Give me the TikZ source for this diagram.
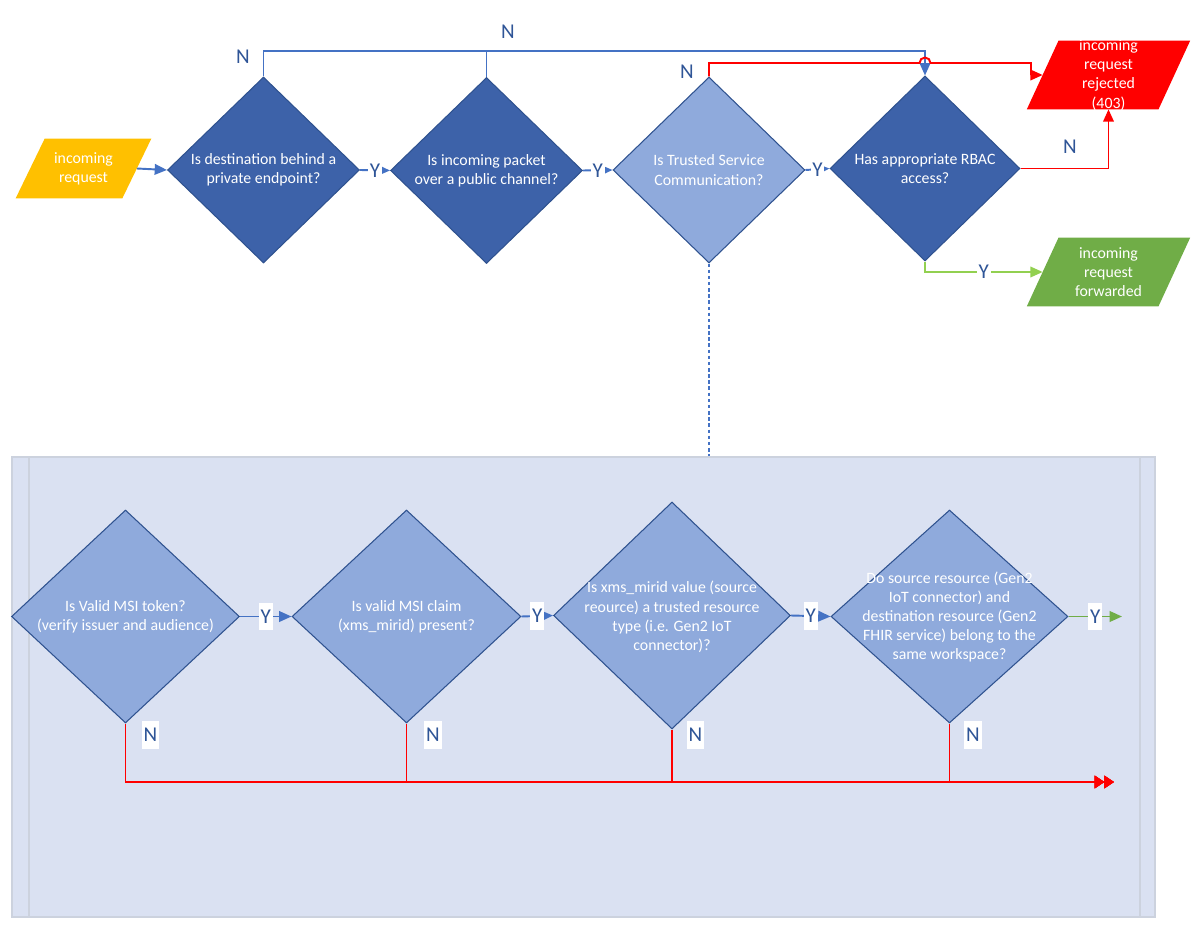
\documentclass[tikz,border=0pt]{standalone}
\usepackage{fontspec}
\setmainfont{Carlito}
\usetikzlibrary{shapes.geometric,arrows.meta}
\definecolor{dkblue}{RGB}{61,98,169}
\definecolor{ltblue}{RGB}{143,170,220}
\definecolor{edgeblue}{RGB}{47,82,143}
\definecolor{lineblue}{RGB}{68,114,196}
\definecolor{lblblue}{RGB}{47,85,151}
\definecolor{yel}{RGB}{255,192,0}
\definecolor{rred}{RGB}{255,0,0}
\definecolor{gfill}{RGB}{112,173,71}
\definecolor{lgreen}{RGB}{146,208,80}
\definecolor{contfill}{RGB}{218,225,242}
\definecolor{contedge}{RGB}{204,210,222}
\newcommand\pgramfill[3]{\fill[#1] ([xshift=-#3]#2.south west) -- ([xshift=-#3]#2.south east) -- ([xshift=#3]#2.north east) -- ([xshift=#3]#2.north west) -- cycle;}
\begin{document}
\begin{tikzpicture}[x=0.02cm,y=-0.02cm,
  dia/.style={diamond, draw=edgeblue, line width=0.6pt, inner sep=0pt, minimum width=3.84cm, minimum height=3.72cm},
  dkdia/.style={dia, fill=dkblue},
  ltdia/.style={dia, fill=ltblue},
  txt/.style={text=white, font=\fontsize{9}{10.9}\selectfont, align=center, inner sep=0pt},
  para/.style={rectangle, inner sep=0pt, minimum width=2.62cm, minimum height=1.36cm, draw=none},
  lbl/.style={text=lblblue, font=\fontsize{12}{14}\selectfont, inner sep=1pt},
  wlbl/.style={lbl, fill=white, inner ysep=4pt, inner xsep=1pt},
  conn/.style={line width=1.1pt},
  bline/.style={conn, draw=lineblue},
  rline/.style={conn, draw=rred},
  gline/.style={conn, draw=lgreen},
  tip/.style={-{Triangle[length=7pt,width=6pt]}},
  rtip/.style={-{Triangle[length=5.5pt,width=7pt]Triangle[length=5.5pt,width=7pt]}},
]
\useasboundingbox (0,0) rectangle (1201,929);

% container
\node[draw=contedge, fill=contfill, line width=0.8pt, minimum width=22.86cm, minimum height=9.2cm, inner sep=0pt] (cont) at (583.5,687) {};
\draw[contedge, line width=0.8pt] (29,457) -- (29,917);
\draw[contedge, line width=0.8pt] (1140,457) -- (1140,917);

% top row
\node[para, minimum width=2.12cm, minimum height=1.18cm] (inreq) at (83.5,168.5) {};
\pgramfill{yel}{inreq}{0.29cm}
\node[txt] (tin) at (inreq) {incoming\\request};
\node[dkdia] (d1) at (263.5,170) {};
\node[txt] (t1) at (d1) {Is destination behind a\\private endpoint?};
\node[dkdia] (d2) at (486.5,170.5) {};
\node[txt] (t2) at (d2) {Is incoming packet\\over a public channel?};
\node[ltdia] (d3) at (709,170) {};
\node[txt] (t3) at (d3) {Is Trusted Service\\Communication?};
\node[dkdia, minimum width=3.8cm, minimum height=3.7cm] (d4) at (925,168.5) {};
\node[txt] (t4) at (d4) {Has appropriate RBAC\\access?};
\node[para] (rej) at (1108.5,75) {};
\pgramfill{rred}{rej}{0.317cm}
\node[txt] (trej) at (rej) {incoming\\request\\rejected\\(403)};
\node[para] (fwd) at (1108.5,272) {};
\pgramfill{gfill}{fwd}{0.317cm}
\node[txt] (tfwd) at (fwd) {incoming\\request\\forwarded};

\draw[bline,tip] (inreq.east) -- (d1.west);
\draw[bline,tip] (d1.east) -- node[lbl, fill=white]{Y} (d2.west);
\draw[bline,tip] (d2.east) -- node[lbl, fill=white]{Y} (d3.west);
\draw[bline,tip] (d3.east) -- node[lbl, fill=white]{Y} (d4.west);

\coordinate (ntop) at (925,51);
\draw[bline,tip] (d1.north) |- (ntop) -- (d4.north);
\draw[bline] (d2.north) -- (d2.north |- ntop);
\node[lbl] (n1) at (243,57) {N};
\node[lbl] (n2) at (508,32) {N};

\coordinate (rtop) at (1031,63);
\draw[rline,tip] (d3.north) |- (919.5,63) arc[start angle=180,end angle=360,radius=5.5] -- (rtop) |- (rej.west);
\node[lbl] (n3) at (687,72) {N};

\draw[rline,tip] (d4.east) -| (rej.south);
\node[lbl] (n4) at (1070,147) {N};
\draw[gline,tip] (d4.south) |- node[lbl, fill=white, pos=0.75]{Y} (fwd.west);

\draw[lineblue, line width=1pt, dash pattern=on 2pt off 1.5pt] (d3.south) -- (d3.south |- cont.north);

% bottom row
\node[ltdia, minimum width=4.56cm, minimum height=4.26cm] (b1) at (125.5,616.5) {};
\node[txt] (tb1) at (b1) {Is Valid MSI token?\\(verify issuer and audience)};
\node[ltdia, minimum width=4.58cm, minimum height=4.26cm] (b2) at (406.5,616.5) {};
\node[txt] (tb2) at (b2) {Is valid MSI claim\\(xms\_mirid) present?};
\node[ltdia, minimum width=4.74cm, minimum height=4.54cm] (b3) at (672,615.5) {};
\node[txt] (tb3) at (672,617) {Is xms\_mirid value (source\\reource) a trusted resource\\type (i.e. Gen2 IoT\\connector)?};
\node[ltdia, minimum width=4.74cm, minimum height=4.26cm] (b4) at (949.5,616.5) {};
\node[txt] (tb4) at (949.5,617) {Do source resource (Gen2\\IoT connector) and\\destination resource (Gen2\\FHIR service) belong to the\\same workspace?};

\draw[bline,tip] (b1.east) -- node[wlbl]{Y} (b2.west);
\draw[bline,tip] (b2.east) -- node[wlbl]{Y} (b3.west);
\draw[bline,tip] (b3.east) -- node[wlbl]{Y} (b4.west);
\coordinate (gend) at (1122,616.5);
\draw[conn, draw=gfill, tip] (b4.east) -- node[wlbl]{Y} (gend);

\coordinate (rend) at (1114,782);
\draw[rline,rtip] (b1.south) |- (rend);
\draw[rline,rtip] (b2.south) |- (rend);
\draw[rline,rtip,line width=1.7pt] (b3.south) |- (rend);
\draw[rline,rtip] (b4.south) |- (rend);
\node[wlbl] (nb1) at (150.5,735) {N};
\node[wlbl] (nb2) at (433,735) {N};
\node[wlbl] (nb3) at (695.5,735) {N};
\node[wlbl] (nb4) at (973,735) {N};
\end{tikzpicture}
\end{document}
